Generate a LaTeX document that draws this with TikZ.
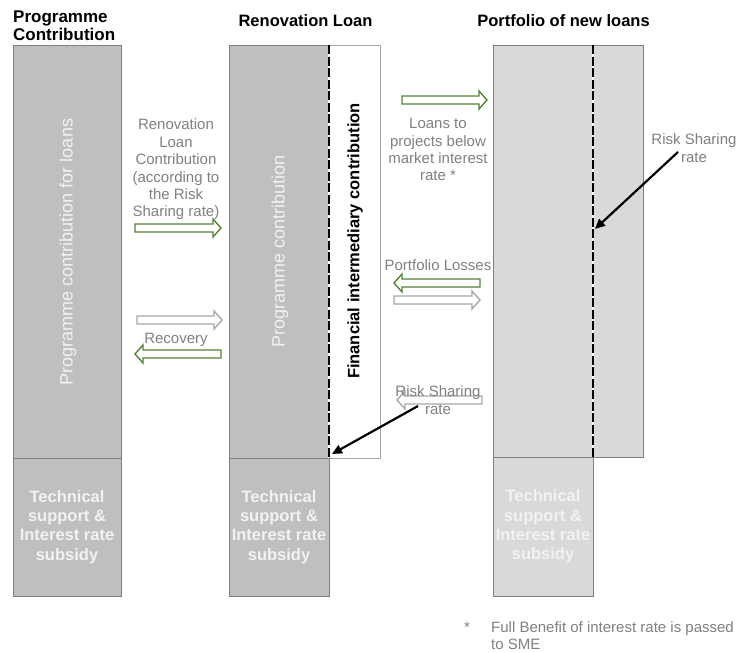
\documentclass[tikz,border=0pt]{standalone}
\usepackage{fontspec}
\setmainfont{Liberation Sans}
\usetikzlibrary{arrows.meta}
\definecolor{boxdark}{HTML}{BFBFBF}
\definecolor{boxlight}{HTML}{D9D9D9}
\definecolor{boxline}{HTML}{808080}
\definecolor{arrgreen}{HTML}{548235}
\definecolor{arrgrey}{HTML}{A6A6A6}
\definecolor{lblgrey}{HTML}{808080}
\definecolor{txtwhite}{HTML}{F2F2F2}
\newcommand{\blockarr}[4]{%
  \pgfmathsetmacro{\bx}{(#2>#1)?(#2-8):(#2+8)}%
  \draw[#4, fill=white, line width=1.4pt, line join=miter]
    (#1,#3-4) -- (\bx,#3-4) -- (\bx,#3-9) -- (#2,#3) -- (\bx,#3+9) -- (\bx,#3+4) -- (#1,#3+4) -- cycle;}
\begin{document}
\begin{tikzpicture}[x=1pt,y=-1pt,
  boxnode/.style={draw=boxline, line width=0.8pt, inner sep=0, outer sep=0, anchor=north west},
  lbl/.style={text=lblgrey, font=\fontsize{15}{17.4}\selectfont, align=center, inner sep=0},
  ttl/.style={font=\fontsize{16.5}{18}\selectfont\bfseries, inner sep=0},
  wtxt/.style={text=txtwhite, font=\fontsize{16.5}{19.3}\selectfont\bfseries, align=center},
  rottxt/.style={rotate=90, font=\fontsize{18}{21}\selectfont, inner sep=0},
  dashwhite/.style={white, line width=2.8pt},
  dashblack/.style={black, line width=2.8pt, dash pattern=on 9pt off 2.5pt},
  pointer/.style={black, line width=2.2pt, -{Triangle[length=10pt,width=9pt]}}
]
\useasboundingbox (0,0) rectangle (737,653);

% titles
\node[ttl, anchor=north west, align=left, font=\fontsize{17}{18}\selectfont\bfseries] (t1) at (13,10.5) {Programme\\Contribution};
\node[ttl, anchor=base] (t2) at (305.5,26) {Renovation Loan};
\node[ttl, anchor=base] (t3) at (563.5,26) {Portfolio of new loans};

% left column
\node[boxnode, fill=boxdark, minimum width=108pt, minimum height=413pt] (pc) at (13,45) {};
\node[boxnode, fill=boxdark, minimum width=108pt, minimum height=138pt, wtxt] (pcl) at (13,458)
  {Technical\\support \&\\Interest rate\\subsidy};
\node[rottxt, text=txtwhite] (pctxt) at (68,252) {Programme contribution for loans};

% middle column
\node[boxnode, fill=white, draw=arrgrey, minimum width=51pt, minimum height=413pt] (fi) at (329,45) {};
\node[boxnode, fill=boxdark, minimum width=100pt, minimum height=413pt] (ml) at (229,45) {};
\node[boxnode, fill=boxdark, minimum width=100pt, minimum height=138pt, wtxt] (mll) at (229,458)
  {Technical\\support \&\\Interest rate\\subsidy};
\node[rottxt, text=txtwhite] (mltxt) at (280,251) {Programme contribution};
\node[rottxt, font=\fontsize{16.5}{20}\selectfont\bfseries] (fitxt) at (355,241) {Financial intermediary contribution};
\draw[dashwhite] (ml.north east) -- (ml.south east);
\draw[dashblack] (ml.north east) -- (ml.south east);

% right column
\node[boxnode, fill=boxlight, minimum width=150pt, minimum height=412pt] (rb) at (493,45) {};
\node[boxnode, fill=boxlight, minimum width=100pt, minimum height=139pt, wtxt] (rbl) at (493,457)
  {Technical\\support \&\\Interest rate\\subsidy};
\draw[dashwhite] (rbl.north east |- rb.north) -- (rbl.north east);
\draw[dashblack] (rbl.north east |- rb.north) -- (rbl.north east);

% labels
\node[lbl] (l1) at (176,169.6) {Renovation\\Loan\\Contribution\\(according to\\the Risk\\Sharing rate)};
\node[lbl, anchor=base] (l2) at (176,343) {Recovery};
\node[lbl] (l3) at (438,149.7) {Loans to\\projects below\\market interest\\rate *};
\node[lbl, anchor=base] (l4) at (438,270) {Portfolio Losses};

% block arrows
\blockarr{135}{221}{228}{arrgreen}
\blockarr{137}{222}{320}{arrgrey}
\blockarr{221}{135}{354}{arrgreen}
\blockarr{402}{487}{100}{arrgreen}
\blockarr{480}{394}{283}{arrgreen}
\blockarr{394}{480}{300}{arrgrey}
\blockarr{482}{397}{400}{arrgrey}

\node[lbl] (l5) at (438,400) {Risk Sharing\\rate};
\node[lbl] (l6) at (694,148) {Risk Sharing\\rate};

% pointers
\coordinate (p1s) at (678,152);
\coordinate (p1e) at (595,229);
\coordinate (p2s) at (418,406);
\coordinate (p2e) at (332,454);
\draw[pointer] (p1s) -- (p1e);
\draw[pointer] (p2s) -- (p2e);

% footnote
\node[lbl, anchor=base] (fs) at (467,632) {*};
\node[lbl, anchor=north west, align=left] (fn) at (491,621.3) {Full Benefit of interest rate is passed\\to SME};
\end{tikzpicture}
\end{document}
